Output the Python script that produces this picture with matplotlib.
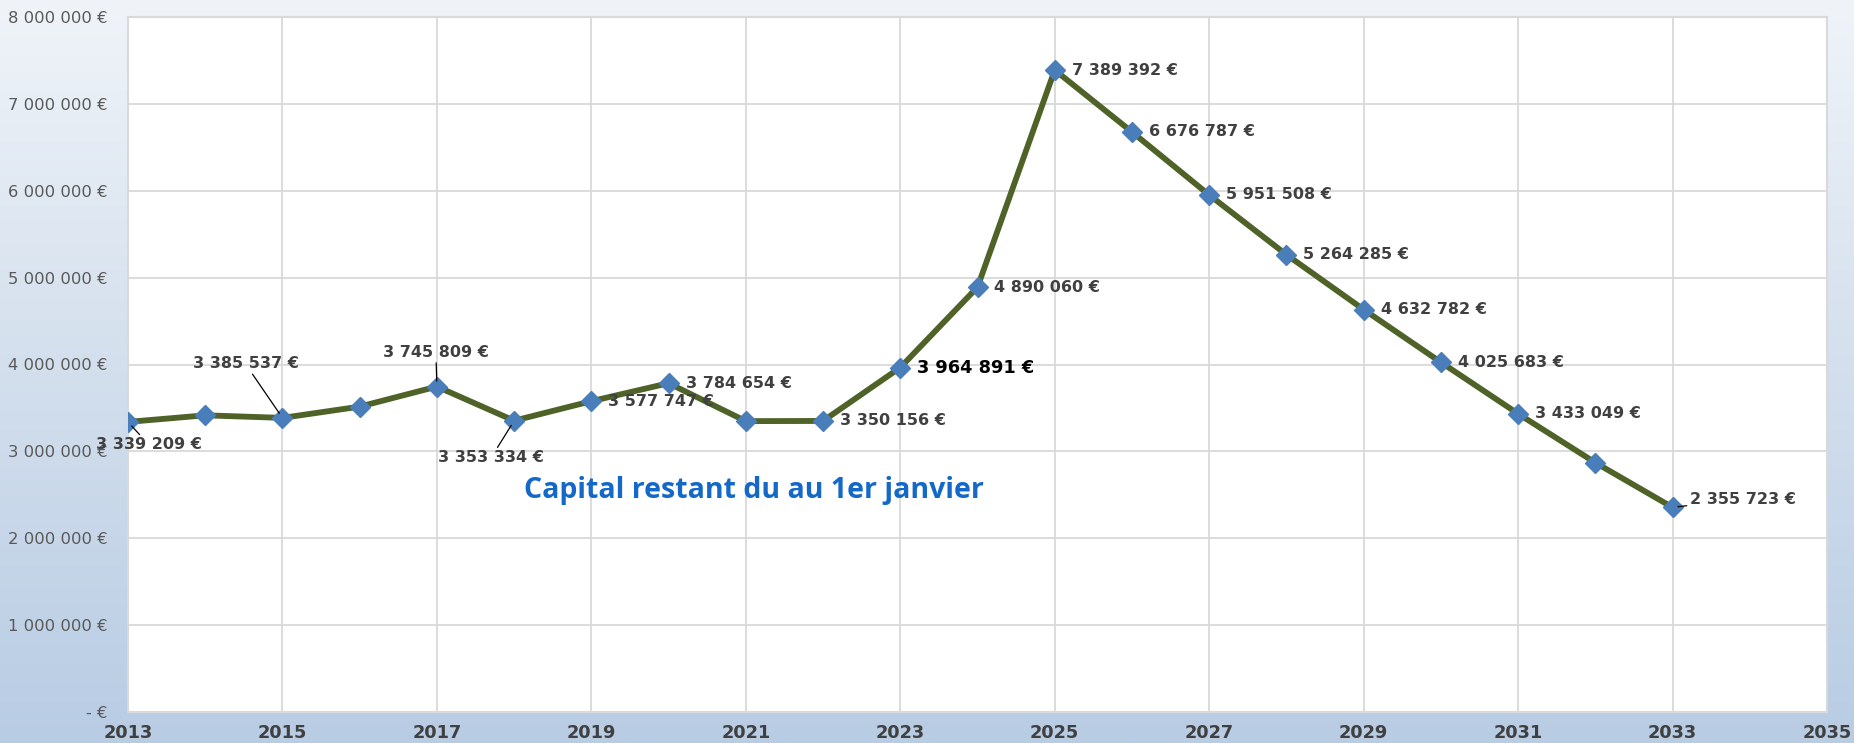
import numpy as np
import matplotlib
matplotlib.use("Agg")
import matplotlib.pyplot as plt
from matplotlib.colors import LinearSegmentedColormap

# données : capital restant dû au 1er janvier
annees = list(range(2013, 2034))
capital = [3339209, 3415000, 3385537, 3515000, 3745809, 3353334, 3577747,
           3784654, 3348000, 3350156, 3964891, 4890060, 7389392, 6676787,
           5951508, 5264285, 4632782, 4025683, 3433049, 2870000, 2355723]

# étiquettes affichées (année -> texte)
etiquettes = {
    2013: "3 339 209 €", 2015: "3 385 537 €", 2017: "3 745 809 €",
    2018: "3 353 334 €", 2019: "3 577 747 €", 2020: "3 784 654 €",
    2022: "3 350 156 €", 2023: "3 964 891 €", 2024: "4 890 060 €",
    2025: "7 389 392 €", 2026: "6 676 787 €", 2027: "5 951 508 €",
    2028: "5 264 285 €", 2029: "4 632 782 €", 2030: "4 025 683 €",
    2031: "3 433 049 €", 2033: "2 355 723 €",
}
y_ticks = [0, 1e6, 2e6, 3e6, 4e6, 5e6, 6e6, 7e6, 8e6]
y_labels = ["- €", "1 000 000 €", "2 000 000 €", "3 000 000 €", "4 000 000 €",
            "5 000 000 €", "6 000 000 €", "7 000 000 €", "8 000 000 €"]
x_ticks = list(range(2013, 2036, 2))

fig = plt.figure(figsize=(18.54, 7.43), dpi=100)

# fond dégradé
bg = fig.add_axes([0, 0, 1, 1], zorder=-10)
cmap = LinearSegmentedColormap.from_list("fond", ["#F0F4F9", "#D3DFED", "#B8CCE4"])
grad = np.linspace(0, 1, 256).reshape(-1, 1)
bg.imshow(grad, aspect="auto", cmap=cmap, extent=[0, 1, 1, 0])
bg.axis("off")

ax = fig.add_axes([128 / 1854, 1 - 712 / 743, (1827 - 128) / 1854, (712 - 17) / 743])
ax.set_facecolor("white")
ax.plot(annees, capital, color="#4F6228", lw=4.2, marker="D", markersize=10,
        markerfacecolor="#4A7EBB", markeredgecolor="#4A7EBB", zorder=3)

ax.set_xlim(2013, 2035)
ax.set_ylim(0, 8e6)
ax.set_xticks(x_ticks)
ax.set_xticklabels([str(x) for x in x_ticks], fontsize=12.8, fontweight="bold", color="#404040")
ax.set_yticks(y_ticks)
ax.set_yticklabels(y_labels, fontsize=11.8, color="#595959")
ax.tick_params(axis="both", length=0)
ax.tick_params(axis="x", pad=9)
ax.tick_params(axis="y", pad=15)
ax.grid(True, color="#D9D9D9", lw=1.3, zorder=0)
for s in ax.spines.values():
    s.set_color("#D9D9D9")
    s.set_linewidth(1.5)

# décalages des étiquettes en pixels (dx, dy, ha, trait de rappel)
speciaux = {
    2013: (21, -23, "center", True),
    2015: (-37, 54, "center", True),
    2017: (-1, 34, "center", True),
    2018: (-23, -37, "center", True),
    2033: (17, 8, "left", True),
}
for an, txt in etiquettes.items():
    v = capital[annees.index(an)]
    dx, dy, ha, trait = speciaux.get(an, (17, 0, "left", False))
    gras_noir = an == 2023
    kw = dict(xy=(an, v), xytext=(dx, dy), textcoords="offset pixels",
              ha=ha, va="center", fontweight="bold",
              fontsize=12.8 if gras_noir else 11.5,
              color="black" if gras_noir else "#404040", zorder=4)
    if trait:
        kw["arrowprops"] = dict(arrowstyle="-", color="black", lw=0.9,
                                shrinkA=0, shrinkB=4)
    ax.annotate(txt, **kw)

ax.text(0.3685, 0.3194, "Capital restant du au 1er janvier", transform=ax.transAxes,
        ha="center", va="center", fontsize=20.5, fontweight="bold",
        color="#1468C8", family="Open Sans")

fig.savefig("out.png", dpi=100)
